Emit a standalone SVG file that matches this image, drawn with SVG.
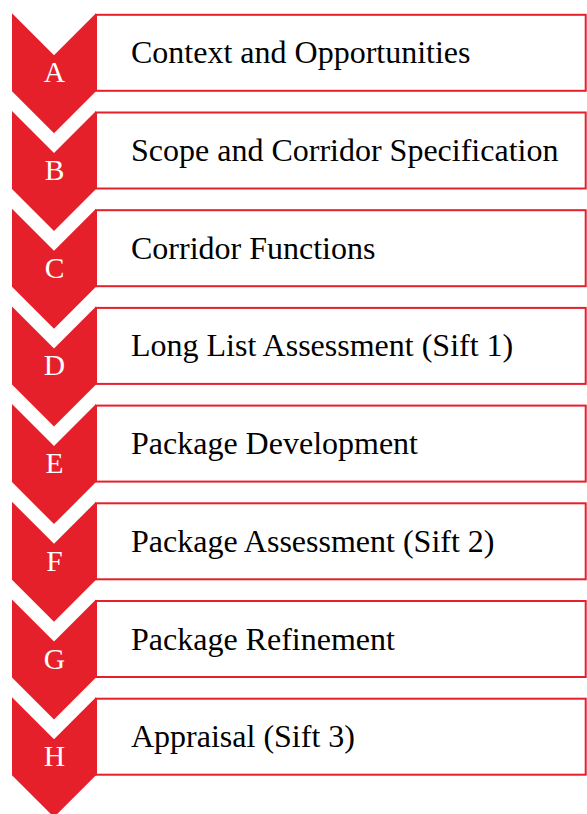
<svg xmlns="http://www.w3.org/2000/svg" width="587" height="814" viewBox="0 0 587 814">
<style>
.box{fill:#fff;stroke:#e6202b;stroke-width:2}
.chev{fill:#e6202b}
.lbl{font-family:"Liberation Serif","Times New Roman",serif;font-size:32px;fill:#000}
.ltr{font-family:"Liberation Serif","Times New Roman",serif;font-size:29.5px;fill:#fff;text-anchor:middle}
</style>
<defs>
<polygon id="chevron" class="chev" points="12,0 54,42 96,0 96,78 54,120 12,78"/>
</defs>
<rect width="587" height="814" fill="#fff"/>
<g id="connectors"></g>
<g id="nodeA" transform="translate(0,13.3)">
<rect class="box" x="96" y="1.5" width="489.7" height="76"/>
<use href="#chevron"/>
<text class="ltr" x="54.5" y="69">A</text>
<text class="lbl" x="131" y="50">Context and Opportunities</text>
</g>
<g id="nodeB" transform="translate(0,111)">
<rect class="box" x="96" y="1.5" width="489.7" height="76"/>
<use href="#chevron"/>
<text class="ltr" x="54.5" y="69">B</text>
<text class="lbl" x="131" y="50">Scope and Corridor Specification</text>
</g>
<g id="nodeC" transform="translate(0,208.7)">
<rect class="box" x="96" y="1.5" width="489.7" height="76"/>
<use href="#chevron"/>
<text class="ltr" x="54.5" y="69">C</text>
<text class="lbl" x="131" y="50">Corridor Functions</text>
</g>
<g id="nodeD" transform="translate(0,306.4)">
<rect class="box" x="96" y="1.5" width="489.7" height="76"/>
<use href="#chevron"/>
<text class="ltr" x="54.5" y="69">D</text>
<text class="lbl" x="131" y="50">Long List Assessment (Sift 1)</text>
</g>
<g id="nodeE" transform="translate(0,404.1)">
<rect class="box" x="96" y="1.5" width="489.7" height="76"/>
<use href="#chevron"/>
<text class="ltr" x="54.5" y="69">E</text>
<text class="lbl" x="131" y="50">Package Development</text>
</g>
<g id="nodeF" transform="translate(0,501.8)">
<rect class="box" x="96" y="1.5" width="489.7" height="76"/>
<use href="#chevron"/>
<text class="ltr" x="54.5" y="69">F</text>
<text class="lbl" x="131" y="50">Package Assessment (Sift 2)</text>
</g>
<g id="nodeG" transform="translate(0,599.5)">
<rect class="box" x="96" y="1.5" width="489.7" height="76"/>
<use href="#chevron"/>
<text class="ltr" x="54.5" y="69">G</text>
<text class="lbl" x="131" y="50">Package Refinement</text>
</g>
<g id="nodeH" transform="translate(0,697.2)">
<rect class="box" x="96" y="1.5" width="489.7" height="76"/>
<use href="#chevron"/>
<text class="ltr" x="54.5" y="69">H</text>
<text class="lbl" x="131" y="50">Appraisal (Sift 3)</text>
</g>
</svg>
